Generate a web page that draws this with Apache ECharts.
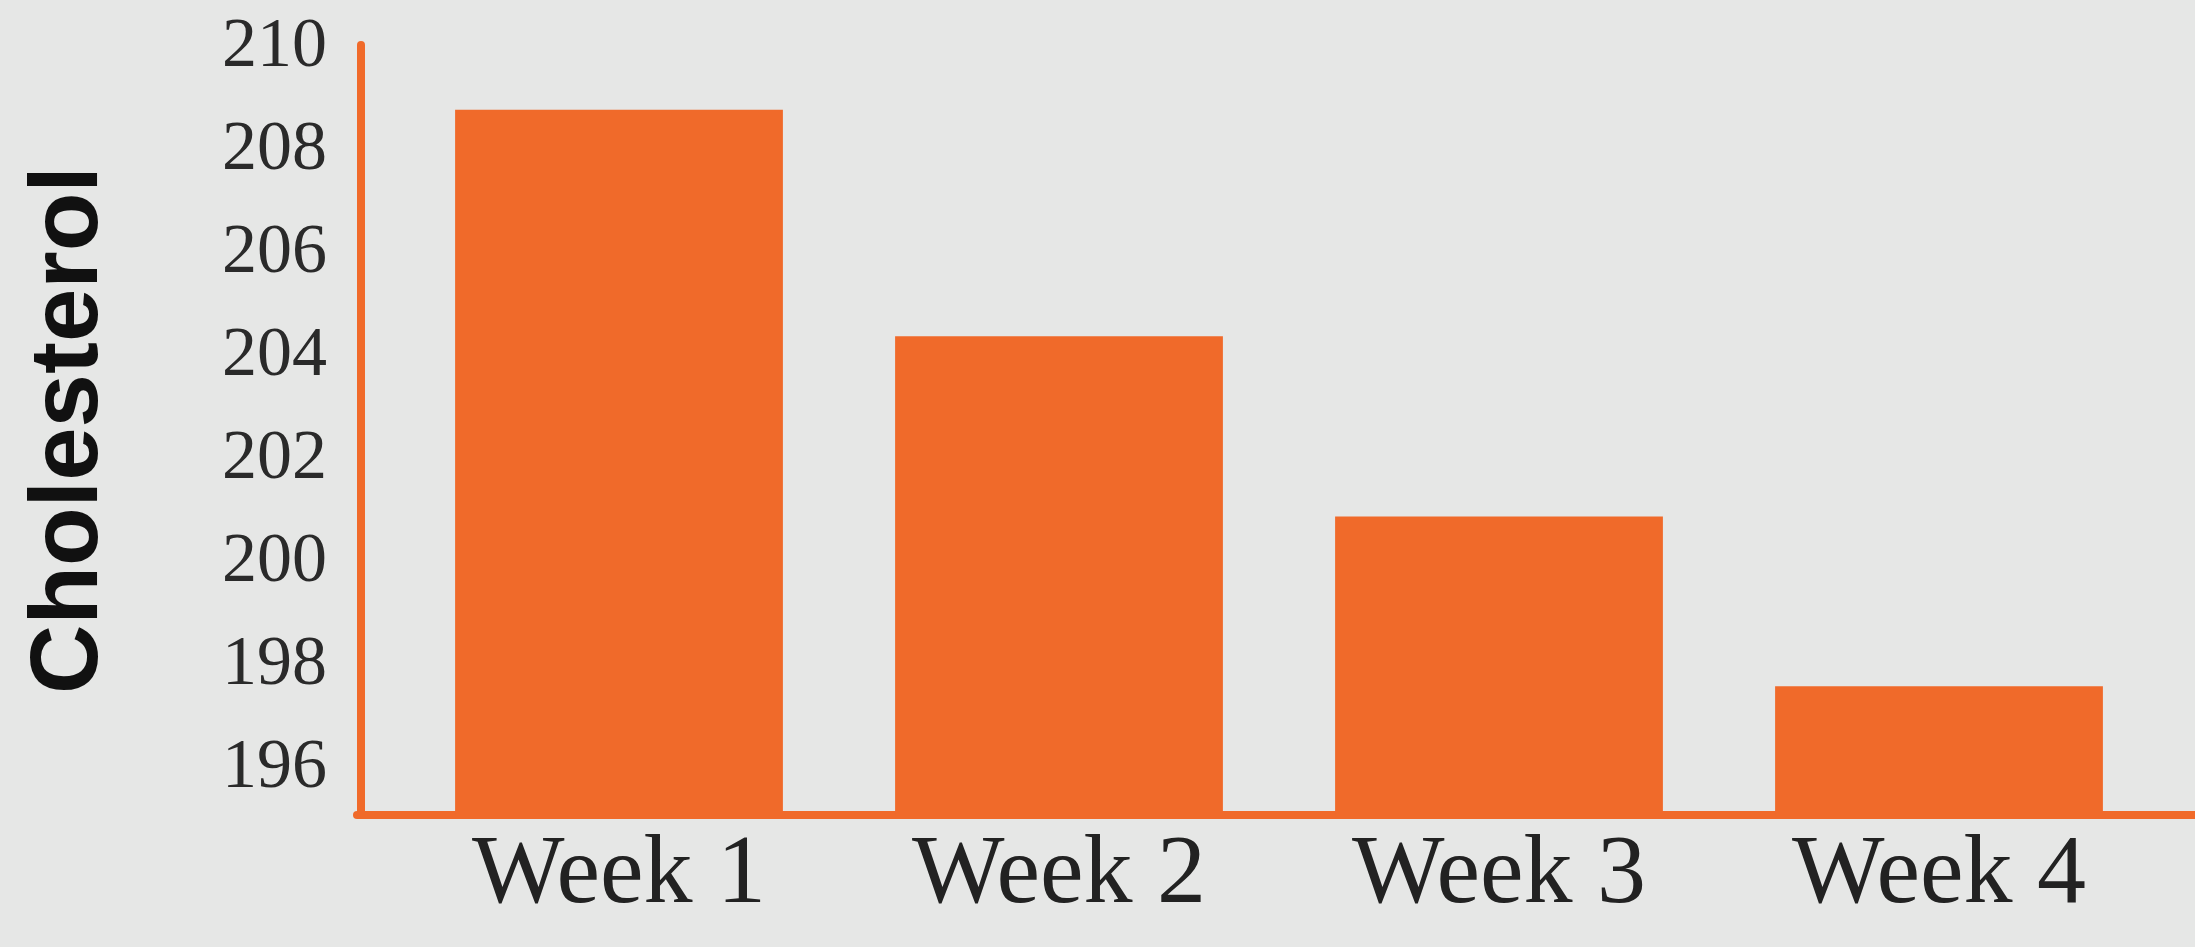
<!DOCTYPE html>
<html>
<head>
<meta charset="utf-8">
<style>
  html, body { margin: 0; padding: 0; background: #e6e7e6; }
  #chart { width: 2195px; height: 947px; }
</style>
<script src="https://cdn.jsdelivr.net/npm/echarts@6/dist/echarts.min.js"></script>
</head>
<body>
<div id="chart"></div>
<script>
const categories = ['Week 1', 'Week 2', 'Week 3', 'Week 4'];
const cholesterol = [208.8, 204.4, 200.9, 197.6];
const yTicks = [196, 198, 200, 202, 204, 206, 208, 210];
const yTitle = 'Cholesterol';

const ORANGE = '#f06a2a';
const chart = echarts.init(document.getElementById('chart'));
chart.setOption({
  backgroundColor: '#e6e7e6',
  animation: false,
  grid: [
    { left: 399, right: 36, top: 45, bottom: 132 },
    { left: 357, right: 0, top: 45, bottom: 132 }
  ],
  xAxis: [
    {
      type: 'category', gridIndex: 0, data: categories,
      axisLine: { show: true, lineStyle: { color: ORANGE, width: 8 } },
      axisTick: { show: false },
      axisLabel: { color: '#222', fontFamily: 'Liberation Serif', fontSize: 98, margin: 12 }
    },
    {
      type: 'value', gridIndex: 1, min: 0, max: 1,
      axisLine: { show: true, onZero: false, lineStyle: { color: ORANGE, width: 8 } },
      axisTick: { show: false }, axisLabel: { show: false }, splitLine: { show: false }
    }
  ],
  yAxis: [
    {
      type: 'value', gridIndex: 0, min: 195.1, max: 210.06, offset: 38,
      name: yTitle, nameLocation: 'middle', nameRotate: 90, nameGap: 242,
      nameTextStyle: { fontFamily: 'Liberation Sans', fontWeight: 'bold', fontSize: 96, color: '#111' },
      axisLine: { show: true, lineStyle: { color: ORANGE, width: 8 } },
      axisTick: { show: false },
      splitLine: { show: false },
      axisLabel: {
        customValues: yTicks,
        color: '#2a2a2a', fontFamily: 'Liberation Serif', fontSize: 70, margin: 34
      }
    },
    {
      type: 'value', gridIndex: 1, min: 0, max: 1, show: false
    }
  ],
  series: [{
    type: 'bar', xAxisIndex: 0, yAxisIndex: 0,
    data: cholesterol, barWidth: '74.5%',
    itemStyle: { color: ORANGE }
  }]
});
</script>
</body>
</html>
